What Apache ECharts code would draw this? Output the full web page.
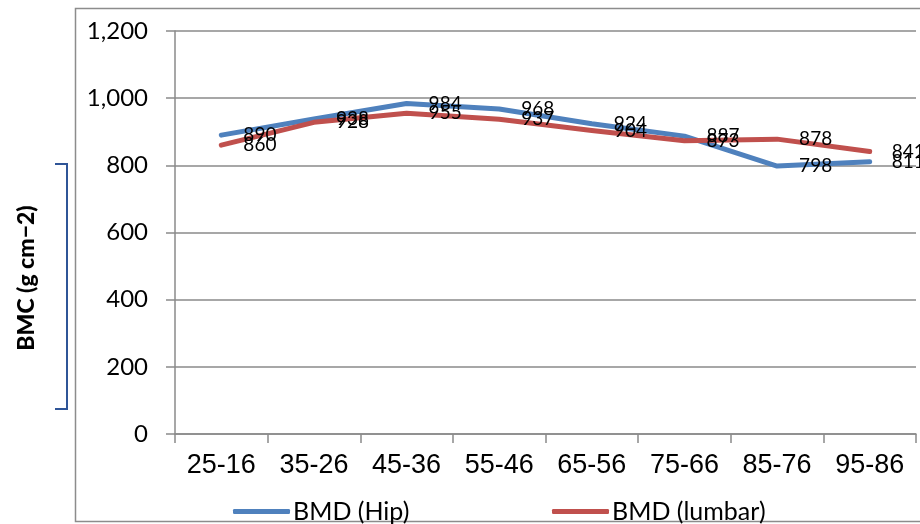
<!DOCTYPE html>
<html><head><meta charset="utf-8">
<script src="https://cdn.jsdelivr.net/npm/echarts@6/dist/echarts.min.js"></script>
<style>html,body{margin:0;padding:0;background:#fff}#c{width:920px;height:524px}</style>
</head><body><div id="c"></div>
<script>
const categories = ['25-16','35-26','45-36','55-46','65-56','75-66','85-76','95-86'];
const hipValues = [890, 938, 984, 968, 924, 887, 798, 811];
const lumbarValues = [860, 928, 955, 937, 904, 873, 878, 841];
const seriesNames = ['BMD (Hip)', 'BMD (lumbar)'];
const seriesColors = ['#4F81BD', '#C0504D'];
const yAxisTitle = 'BMC (g cm\u22122)';

const chart = echarts.init(document.getElementById('c'), null, {renderer: 'canvas'});
const gray = '#8a8a8a';
function mkSeries(name, data, color) {
  return {
    name: name, type: 'line', data: data, showSymbol: true, symbol: 'circle', symbolSize: 0.1,
    lineStyle: {color: color, width: 5, cap: 'round', join: 'round'},
    itemStyle: {color: color},
    label: {show: true, position: 'right', distance: 22, fontFamily: 'Lato', fontSize: 19, color: '#000'},
    emphasis: {disabled: true}, animation: false, z: 3
  };
}
const legendCommon = {
  top: 494, itemWidth: 57, itemHeight: 5, icon: 'roundRect', itemGap: 0,
  textStyle: {fontFamily: 'Lato', fontSize: 25, color: '#000', padding: [0,0,0,-2]}
};
chart.setOption({
  animation: false,
  backgroundColor: '#fff',
  grid: {left: 175, right: 4, top: 31, bottom: 90, containLabel: false},
  legend: [
    Object.assign({data: [seriesNames[0]], left: 228}, legendCommon),
    Object.assign({data: [seriesNames[1]], left: 547}, legendCommon)
  ],
  xAxis: {
    type: 'category', data: categories, boundaryGap: true,
    axisLine: {lineStyle: {color: gray, width: 1.5}},
    axisTick: {show: true, length: 9, lineStyle: {color: gray, width: 1.5}},
    axisLabel: {interval: 0, fontFamily: 'Liberation Sans', fontSize: 27, color: '#000', margin: 18}
  },
  yAxis: {
    type: 'value', min: 0, max: 1200, interval: 200,
    axisLine: {show: true, lineStyle: {color: gray, width: 1.5}},
    axisTick: {show: true, length: 9, lineStyle: {color: gray, width: 1.5}},
    splitLine: {show: true, lineStyle: {color: gray, width: 1.5}},
    axisLabel: {fontFamily: 'Lato', fontSize: 24, color: '#000', margin: 27,
      formatter: v => v.toLocaleString('en-US')}
  },
  graphic: [
    {type: 'rect', shape: {x: 75.5, y: 8.5, width: 900, height: 513}, style: {fill: null, stroke: '#8c8c8c', lineWidth: 1.5}, silent: true, z: 0},
    {type: 'polyline', shape: {points: [[55,164],[67,164],[67,409],[55,409]]}, style: {fill: null, stroke: '#2F5597', lineWidth: 2}, silent: true},
    {type: 'text', x: 27, y: 278, rotation: Math.PI/2, style: {text: yAxisTitle, fontFamily: 'Lato', fontWeight: 900, fontSize: 23, fill: '#000', align: 'center', verticalAlign: 'middle'}, silent: true}
  ],
  series: [mkSeries(seriesNames[0], hipValues, seriesColors[0]), mkSeries(seriesNames[1], lumbarValues, seriesColors[1])]
});
</script></body></html>
